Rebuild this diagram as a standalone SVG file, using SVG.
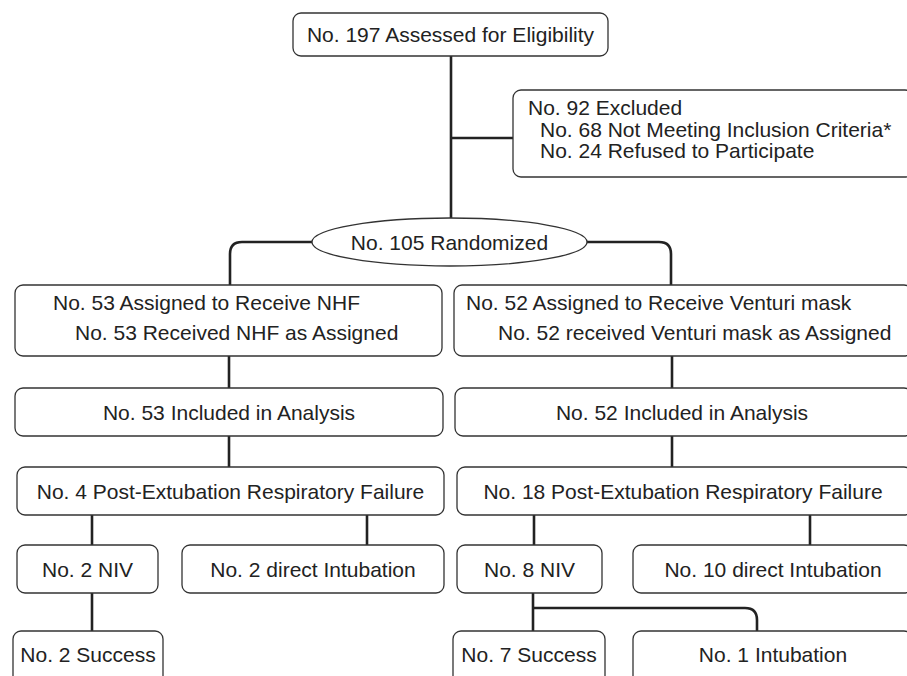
<svg xmlns="http://www.w3.org/2000/svg" width="907" height="676" viewBox="0 0 907 676">
<style>
.box{fill:#fff;stroke:#333;stroke-width:1.3}
.conn{fill:none;stroke:#222;stroke-width:2.6;stroke-linejoin:round}
text{font-family:"Liberation Sans",Arial,sans-serif;font-size:21px;fill:#222}
.c{text-anchor:middle}
</style>
<rect width="907" height="676" fill="#fff"/>
<g id="connectors">
<path class="conn" d="M451,56 V218"/>
<path class="conn" d="M451,138 H513"/>
<path class="conn" d="M312,242 H242 Q230,242 230,254 V285"/>
<path class="conn" d="M587,242 H659 Q671,242 671,254 V285"/>
<path class="conn" d="M229,356 V388"/>
<path class="conn" d="M672,356 V388"/>
<path class="conn" d="M229,436 V467"/>
<path class="conn" d="M672,436 V467"/>
<path class="conn" d="M92,515 V545"/>
<path class="conn" d="M367,515 V545"/>
<path class="conn" d="M534,515 V545"/>
<path class="conn" d="M810,515 V545"/>
<path class="conn" d="M92,593 V631"/>
<path class="conn" d="M533,593 V631"/>
<path class="conn" d="M533,608 H745 Q757,608 757,620 V631"/>
</g>
<g id="assessed">
<rect class="box" x="293" y="13" width="315" height="43" rx="8"/>
<text class="c" x="450.5" y="42">No. 197 Assessed for Eligibility</text>
</g>
<g id="excluded">
<rect class="box" x="513" y="90" width="400" height="87" rx="8"/>
<text x="528" y="115">No. 92 Excluded</text>
<text x="540" y="137">No. 68 Not Meeting Inclusion Criteria*</text>
<text x="540" y="158">No. 24 Refused to Participate</text>
</g>
<g id="randomized">
<ellipse class="box" cx="449.5" cy="242" rx="137.5" ry="24"/>
<text class="c" x="449.5" y="249.5">No. 105 Randomized</text>
</g>
<g id="assigned-nhf">
<rect class="box" x="15" y="285" width="427" height="71" rx="8"/>
<text x="53" y="310">No. 53 Assigned to Receive NHF</text>
<text x="75" y="340">No. 53 Received NHF as Assigned</text>
</g>
<g id="assigned-venturi">
<rect class="box" x="454" y="285" width="458" height="71" rx="8"/>
<text x="466" y="310">No. 52 Assigned to Receive Venturi mask</text>
<text x="498" y="340">No. 52 received Venturi mask as Assigned</text>
</g>
<g id="analysis-nhf">
<rect class="box" x="15" y="388" width="428" height="48" rx="8"/>
<text class="c" x="229" y="419.5">No. 53 Included in Analysis</text>
</g>
<g id="analysis-venturi">
<rect class="box" x="455" y="388" width="457" height="48" rx="8"/>
<text class="c" x="682" y="419.5">No. 52 Included in Analysis</text>
</g>
<g id="failure-nhf">
<rect class="box" x="17" y="467" width="427" height="48" rx="8"/>
<text class="c" x="230.5" y="498.5">No. 4 Post-Extubation Respiratory Failure</text>
</g>
<g id="failure-venturi">
<rect class="box" x="457" y="467" width="455" height="48" rx="8"/>
<text class="c" x="683" y="498.5">No. 18 Post-Extubation Respiratory Failure</text>
</g>
<g id="niv-nhf">
<rect class="box" x="17" y="545" width="141" height="48" rx="8"/>
<text class="c" x="87.5" y="576.5">No. 2 NIV</text>
</g>
<g id="intubation-nhf">
<rect class="box" x="182" y="545" width="262" height="48" rx="8"/>
<text class="c" x="313" y="576.5">No. 2 direct Intubation</text>
</g>
<g id="niv-venturi">
<rect class="box" x="457" y="545" width="145" height="48" rx="8"/>
<text class="c" x="529.5" y="576.5">No. 8 NIV</text>
</g>
<g id="intubation-venturi">
<rect class="box" x="633" y="545" width="279" height="48" rx="8"/>
<text class="c" x="773" y="576.5">No. 10 direct Intubation</text>
</g>
<g id="success-nhf">
<rect class="box" x="13" y="631" width="150" height="60" rx="8"/>
<text class="c" x="88" y="662">No. 2 Success</text>
</g>
<g id="success-venturi">
<rect class="box" x="453" y="631" width="152" height="60" rx="8"/>
<text class="c" x="529" y="662">No. 7 Success</text>
</g>
<g id="intubation-after-niv">
<rect class="box" x="633" y="631" width="279" height="60" rx="8"/>
<text class="c" x="773" y="662">No. 1 Intubation</text>
</g>
</svg>
